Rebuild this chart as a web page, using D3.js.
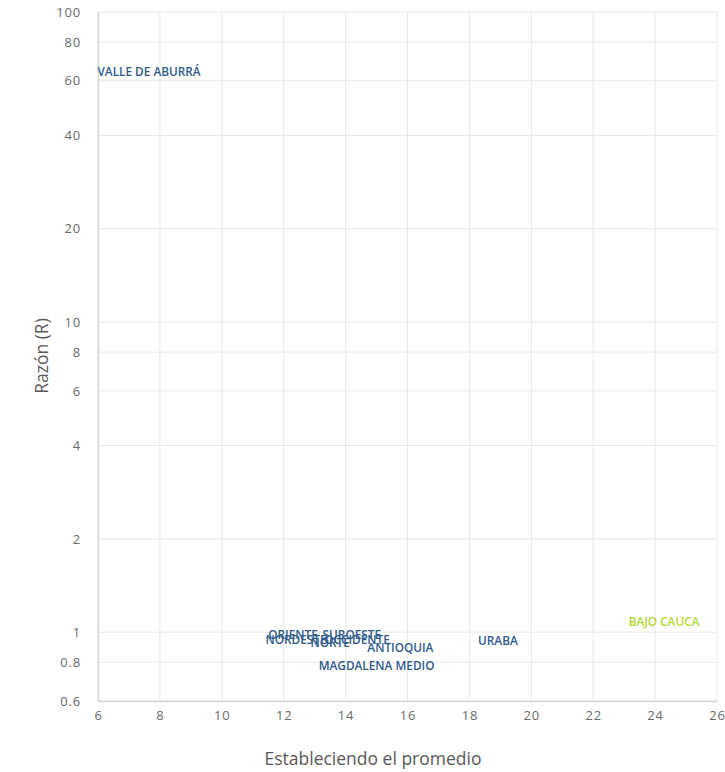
<!DOCTYPE html>
<html>
<head>
<meta charset="utf-8">
<script src="https://cdn.jsdelivr.net/npm/d3@7"></script>
<style>
  html, body { margin: 0; padding: 0; background: #ffffff; }
  svg { display: block; }
</style>
</head>
<body>
<svg id="chart" width="725" height="772"></svg>
<script>
// Regions of Antioquia: average value (x) against ratio R (y, log scale)
const regions = ["VALLE DE ABURRÁ", "ORIENTE", "SUROESTE", "NORDESTE", "OCCIDENTE",
                 "NORTE", "ANTIOQUIA", "MAGDALENA MEDIO", "URABA", "BAJO CAUCA"];
const promedio = [7.65, 12.30, 14.20, 12.40, 14.37, 13.50, 15.77, 15.00, 18.92, 24.29];
const razon    = [64.0, 0.978, 0.978, 0.942, 0.942, 0.921, 0.891, 0.780, 0.935, 1.077];
const highlight = ["BAJO CAUCA"];

const xTicks = [6, 8, 10, 12, 14, 16, 18, 20, 22, 24, 26];
const yTicks = [0.6, 0.8, 1, 2, 4, 6, 8, 10, 20, 40, 60, 80, 100];

const svg = d3.select("#chart");
const margin = { left: 98, right: 8, top: 12, bottom: 71 };
const W = 725, H = 772;
const font = "'Open Sans', 'Noto Sans', sans-serif";

const x = d3.scaleLinear().domain([6, 26]).range([margin.left, W - margin.right]);
const y = d3.scaleLog().domain([0.6, 100]).range([H - margin.bottom, margin.top]);

// grid
const grid = svg.append("g");
grid.selectAll("line.v").data(xTicks).join("line")
  .attr("x1", d => x(d)).attr("x2", d => x(d))
  .attr("y1", y(100)).attr("y2", y(0.6))
  .attr("stroke", "#e8e8e8").attr("stroke-width", 1);
grid.selectAll("line.h").data(yTicks).join("line")
  .attr("x1", x(6)).attr("x2", x(26))
  .attr("y1", d => y(d)).attr("y2", d => y(d))
  .attr("stroke", "#e8e8e8").attr("stroke-width", 1);

// axes
const xAxis = svg.append("g")
  .attr("transform", `translate(0,${y(0.6)})`)
  .call(d3.axisBottom(x).tickValues(xTicks).tickSize(0).tickPadding(10).tickFormat(d3.format("d")));
const yAxis = svg.append("g")
  .attr("transform", `translate(${x(6)},0)`)
  .call(d3.axisLeft(y).tickValues(yTicks).tickSize(0).tickPadding(17).tickFormat(d => String(d)));

[xAxis, yAxis].forEach(a => {
  a.select(".domain").attr("stroke", "#d6d6d6").attr("stroke-width", 1.5);
  a.selectAll("text")
    .attr("fill", "#6a6a6a")
    .style("font-family", font)
    .style("font-size", "13px")
    .style("letter-spacing", "0.8px");
});

// axis titles
svg.append("text")
  .attr("x", 373).attr("y", 765)
  .attr("text-anchor", "middle")
  .attr("fill", "#595959")
  .style("font-family", font)
  .style("font-size", "17.5px")
  .text("Estableciendo el promedio");

svg.append("text")
  .attr("transform", "translate(48,356) rotate(-90)")
  .attr("text-anchor", "middle")
  .attr("fill", "#595959")
  .style("font-family", font)
  .style("font-size", "17.5px")
  .text("Razón (R)");

// region labels placed at their data points
const data = regions.map((r, i) => ({ name: r, px: promedio[i], r: razon[i] }));
svg.append("g").selectAll("text").data(data).join("text")
  .attr("x", d => x(d.px))
  .attr("y", d => y(d.r))
  .attr("dy", "0.35em")
  .attr("text-anchor", "middle")
  .attr("fill", d => highlight.includes(d.name) ? "#b4d831" : "#2f5a8a")
  .style("font-family", font)
  .style("font-size", "11.8px")
  .style("font-weight", "600")
  .text(d => d.name);
</script>
</body>
</html>
